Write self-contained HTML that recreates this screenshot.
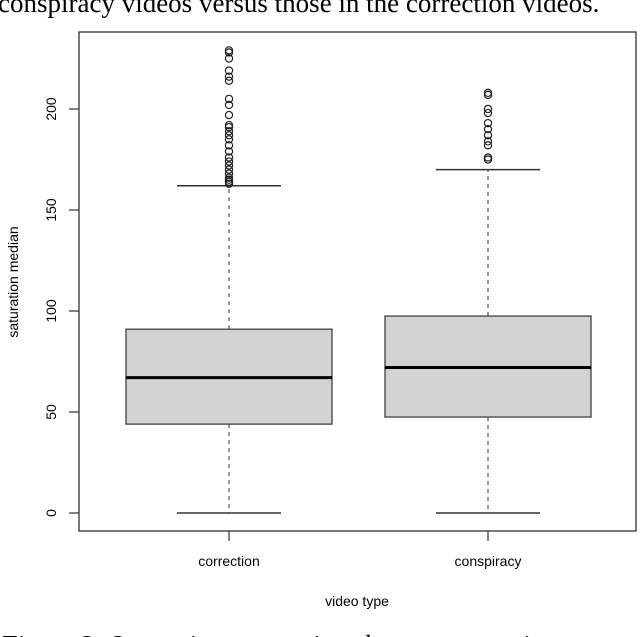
<!DOCTYPE html>
<html><head><meta charset="utf-8"><style>
body{margin:0;background:#fff;width:640px;height:637px;overflow:hidden}
svg{display:block}
</style></head><body>
<svg id="chart" width="640" height="637" font-family="Liberation Sans, sans-serif">
<text x="-2" y="12" font-family="Liberation Serif, serif" font-size="27">conspiracy videos versus those in the correction videos.</text>
<text x="0" y="654" font-family="Liberation Serif, serif" font-style="italic" font-size="27">Figure 2: Saturation comparison between conspiracy</text>
<rect x="79" y="32" width="557" height="499" fill="none" stroke="#333" stroke-width="1.3"/>
<text transform="translate(18,282) rotate(-90)" text-anchor="middle" font-size="14">saturation median</text>
<text x="357" y="606" text-anchor="middle" font-size="14">video type</text>
<g id="g"></g>
</svg>
<script>
const categories=['correction','conspiracy'];
const q1=[44,47.5];
const medians=[67,72];
const q3=[91,97.5];
const whiskLo=[0,0];
const whiskHi=[162,170];
const outliers0=[229,228,225,219,216,214,205,202,197,192,191,189,187,185,182,179,176,174,172,170,168,166,165,164,163];
const outliers1=[208,207,200,198,193,190,187,184,182,176,175];
const yTicks=[0,50,100,150,200];
const outliers=[outliers0,outliers1];
const NS='http://www.w3.org/2000/svg';
const g=document.getElementById('g');
const y=v=>513-v*(513-109)/200;
const x=i=>229+i*259;
function mk(t,a){const e=document.createElementNS(NS,t);for(const k in a)e.setAttribute(k,a[k]);g.appendChild(e);return e;}
yTicks.forEach(v=>{
 const t=mk('line',{x1:69,x2:79,y1:y(v),y2:y(v),stroke:'#333','stroke-width':1.2});
 
 
 const l=mk('text',{transform:`translate(56,${y(v)}) rotate(-90)`,'text-anchor':'middle','font-size':14});
 l.textContent=v;
 
 
});
categories.forEach((c,i)=>{
 const cx=x(i),hw=103,cw=52;
 const t=mk('line',{x1:cx,x2:cx,y1:531,y2:541,stroke:'#333','stroke-width':1.2});
 
 
 const l=mk('text',{x:cx,y:566,'text-anchor':'middle','font-size':14});
 l.textContent=c;
 
 
 const w1=mk('line',{x1:cx,x2:cx,y1:y(q3[i]),y2:y(whiskHi[i]),stroke:'#333','stroke-dasharray':'4,4'});
 
 
 const w2=mk('line',{x1:cx,x2:cx,y1:y(q1[i]),y2:y(whiskLo[i]),stroke:'#333','stroke-dasharray':'4,4'});
 
 
 const c1=mk('line',{x1:cx-cw,x2:cx+cw,y1:y(whiskHi[i]),y2:y(whiskHi[i]),stroke:'#333','stroke-width':1.5});
 
 
 const c2=mk('line',{x1:cx-cw,x2:cx+cw,y1:y(whiskLo[i]),y2:y(whiskLo[i]),stroke:'#333','stroke-width':1.5});
 
 
 const b=mk('rect',{x:cx-hw,y:y(q3[i]),width:2*hw,height:y(q1[i])-y(q3[i]),fill:'#d3d3d3',stroke:'#333','stroke-width':1.2});
 
 
 const m=mk('line',{x1:cx-hw,x2:cx+hw,y1:y(medians[i]),y2:y(medians[i]),stroke:'#000','stroke-width':3});
 
 
 outliers[i].forEach(v=>{
  const o=mk('circle',{cx:cx,cy:y(v),r:3.6,fill:'none',stroke:'#222','stroke-width':1.2});
  
  
 });
});
</script>
</body></html>
